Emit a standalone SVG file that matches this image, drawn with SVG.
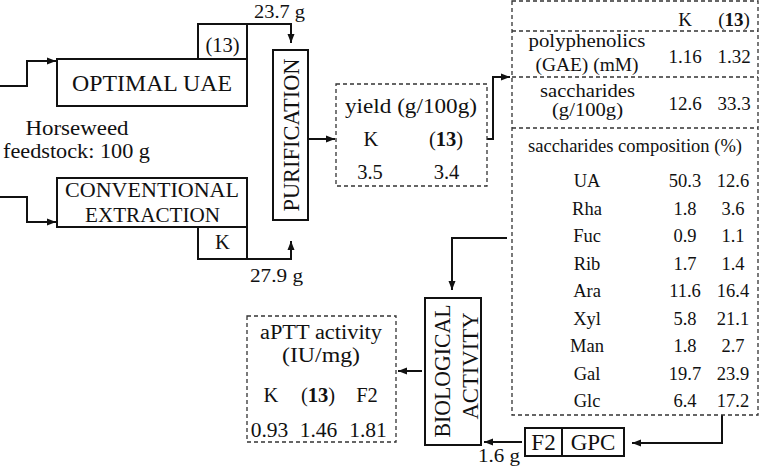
<svg xmlns="http://www.w3.org/2000/svg" width="760" height="470" viewBox="0 0 760 470">
<defs>
<marker id="ah" markerUnits="userSpaceOnUse" markerWidth="10" markerHeight="8" refX="9" refY="4" orient="auto"><path d="M0,0.5 L9,4 L0,7.5 z" fill="#111"/></marker>
</defs>
<style>
text{font-family:"Liberation Serif","Times New Roman",serif;fill:#111;text-anchor:middle;}
.box{fill:#fff;stroke:#111;stroke-width:2;}
.dash{fill:none;stroke:#333;stroke-width:1.3;stroke-dasharray:4 3;}
.edge{fill:none;stroke:#111;stroke-width:2;}
.arr{marker-end:url(#ah);}
.f18{font-size:18.5px;}
.f19{font-size:19px;}
.f20{font-size:20.5px;}
.f21{font-size:21.5px;}
.f23{font-size:23px;}
.b{font-weight:bold;}
</style>
<rect x="0" y="0" width="760" height="470" fill="#fff"/>

<g id="edges">
<path class="edge arr" d="M0,86 H27 V61 H56"/>
<path class="edge arr" d="M0,197 H27 V222 H56"/>
<path class="edge arr" d="M247,24 H291 V43"/>
<path class="edge arr" d="M247,259 H291 V241"/>
<path class="edge arr" d="M308,139 H335"/>
<path class="edge arr" d="M487,139 H493 V77 H510"/>
<path class="edge arr" d="M507,238 H452 V290"/>
<path class="edge arr" d="M722,415 V443 H632"/>
<path class="edge arr" d="M522,442 H484"/>
<path class="edge arr" d="M422,371 H398"/>
</g>

<g id="edge-labels">
<text class="f19" x="279.5" y="18" textLength="51" lengthAdjust="spacingAndGlyphs">23.7 g</text>
<text class="f19" x="276.5" y="282" textLength="53" lengthAdjust="spacingAndGlyphs">27.9 g</text>
<text class="f19" x="499" y="462" textLength="42" lengthAdjust="spacingAndGlyphs">1.6 g</text>
</g>

<g id="feedstock">
<text class="f20" x="77" y="135" textLength="103" lengthAdjust="spacingAndGlyphs">Horseweed</text>
<text class="f20" x="76.5" y="158" textLength="147" lengthAdjust="spacingAndGlyphs">feedstock: 100 g</text>
</g>

<g id="optimal-uae">
<rect class="box" x="57" y="59" width="190" height="47"/>
<text class="f23" x="152" y="91" textLength="160" lengthAdjust="spacingAndGlyphs">OPTIMAL UAE</text>
</g>
<g id="uae-13">
<rect class="box" x="198" y="24" width="49" height="35"/>
<text class="f20" x="222.5" y="52">(13)</text>
</g>

<g id="conventional">
<rect class="box" x="57" y="178" width="190" height="49"/>
<text class="f20" x="152" y="197" textLength="174" lengthAdjust="spacingAndGlyphs">CONVENTIONAL</text>
<text class="f20" x="152.5" y="222" textLength="135" lengthAdjust="spacingAndGlyphs">EXTRACTION</text>
</g>
<g id="conv-k">
<rect class="box" x="198" y="227" width="49" height="32"/>
<text class="f20" x="222.5" y="249">K</text>
</g>

<g id="purification">
<rect class="box" x="273" y="50" width="35" height="170"/>
<text class="f23" transform="translate(299,135) rotate(-90)" textLength="153" lengthAdjust="spacingAndGlyphs">PURIFICATION</text>
</g>

<g id="yield">
<rect class="dash" x="336" y="84" width="151" height="102"/>
<text class="f20" x="411" y="113" textLength="132" lengthAdjust="spacingAndGlyphs">yield (g/100g)</text>
<text class="f20" x="371" y="146">K</text>
<text class="f20" x="446" y="146">(<tspan class="b">13</tspan>)</text>
<text class="f20" x="370" y="179">3.5</text>
<text class="f20" x="446.5" y="179">3.4</text>
</g>

<g id="composition-table">
<rect class="dash" x="512" y="1" width="246" height="414"/>
<path class="dash" d="M512,31 H758 M512,77 H758 M512,128 H758"/>
<text class="f19" x="685" y="26">K</text>
<text class="f19" x="734" y="26">(<tspan class="b">13</tspan>)</text>
<text class="f19" x="587" y="47" textLength="117" lengthAdjust="spacingAndGlyphs">polyphenolics</text>
<text class="f19" x="587" y="71" textLength="103" lengthAdjust="spacingAndGlyphs">(GAE) (mM)</text>
<text class="f19" x="685" y="63">1.16</text>
<text class="f19" x="734" y="63">1.32</text>
<text class="f19" x="587.5" y="97" textLength="95" lengthAdjust="spacingAndGlyphs">saccharides</text>
<text class="f19" x="587.5" y="116" textLength="71" lengthAdjust="spacingAndGlyphs">(g/100g)</text>
<text class="f19" x="685" y="110">12.6</text>
<text class="f19" x="734" y="110">33.3</text>
<text class="f18" x="635" y="152" textLength="214" lengthAdjust="spacingAndGlyphs">saccharides composition (%)</text>
<g class="f18">
<text x="587" y="187">UA</text><text x="685" y="187">50.3</text><text x="733" y="187">12.6</text>
<text x="587" y="214.5">Rha</text><text x="685" y="214.5">1.8</text><text x="733" y="214.5">3.6</text>
<text x="587" y="242">Fuc</text><text x="685" y="242">0.9</text><text x="733" y="242">1.1</text>
<text x="587" y="269.5">Rib</text><text x="685" y="269.5">1.7</text><text x="733" y="269.5">1.4</text>
<text x="587" y="297">Ara</text><text x="685" y="297">11.6</text><text x="733" y="297">16.4</text>
<text x="587" y="324.5">Xyl</text><text x="685" y="324.5">5.8</text><text x="733" y="324.5">21.1</text>
<text x="587" y="352">Man</text><text x="685" y="352">1.8</text><text x="733" y="352">2.7</text>
<text x="587" y="379.5">Gal</text><text x="685" y="379.5">19.7</text><text x="733" y="379.5">23.9</text>
<text x="587" y="407">Glc</text><text x="685" y="407">6.4</text><text x="733" y="407">17.2</text>
</g>
</g>

<g id="f2-gpc">
<rect class="box" x="525" y="428" width="99" height="28"/>
<path class="edge" d="M562,428 V456"/>
<text class="f23" x="543.5" y="450">F2</text>
<text class="f23" x="593" y="450">GPC</text>
</g>

<g id="biological-activity">
<rect class="box" x="425" y="298" width="56" height="147"/>
<text class="f23" transform="translate(450,371) rotate(-90)" textLength="133" lengthAdjust="spacingAndGlyphs">BIOLOGICAL</text>
<text class="f23" transform="translate(478,366) rotate(-90)" textLength="107" lengthAdjust="spacingAndGlyphs">ACTIVITY</text>
</g>

<g id="aptt">
<rect class="dash" x="247" y="316" width="149" height="126"/>
<text class="f20" x="321" y="339" textLength="122" lengthAdjust="spacingAndGlyphs">aPTT activity</text>
<text class="f20" x="321" y="362" textLength="78" lengthAdjust="spacingAndGlyphs">(IU/mg)</text>
<text class="f20" x="271" y="402">K</text>
<text class="f20" x="318" y="402">(<tspan class="b">13</tspan>)</text>
<text class="f20" x="367" y="402">F2</text>
<text class="f21" x="269.5" y="437">0.93</text>
<text class="f21" x="318.5" y="437">1.46</text>
<text class="f21" x="368" y="437">1.81</text>
</g>
</svg>
